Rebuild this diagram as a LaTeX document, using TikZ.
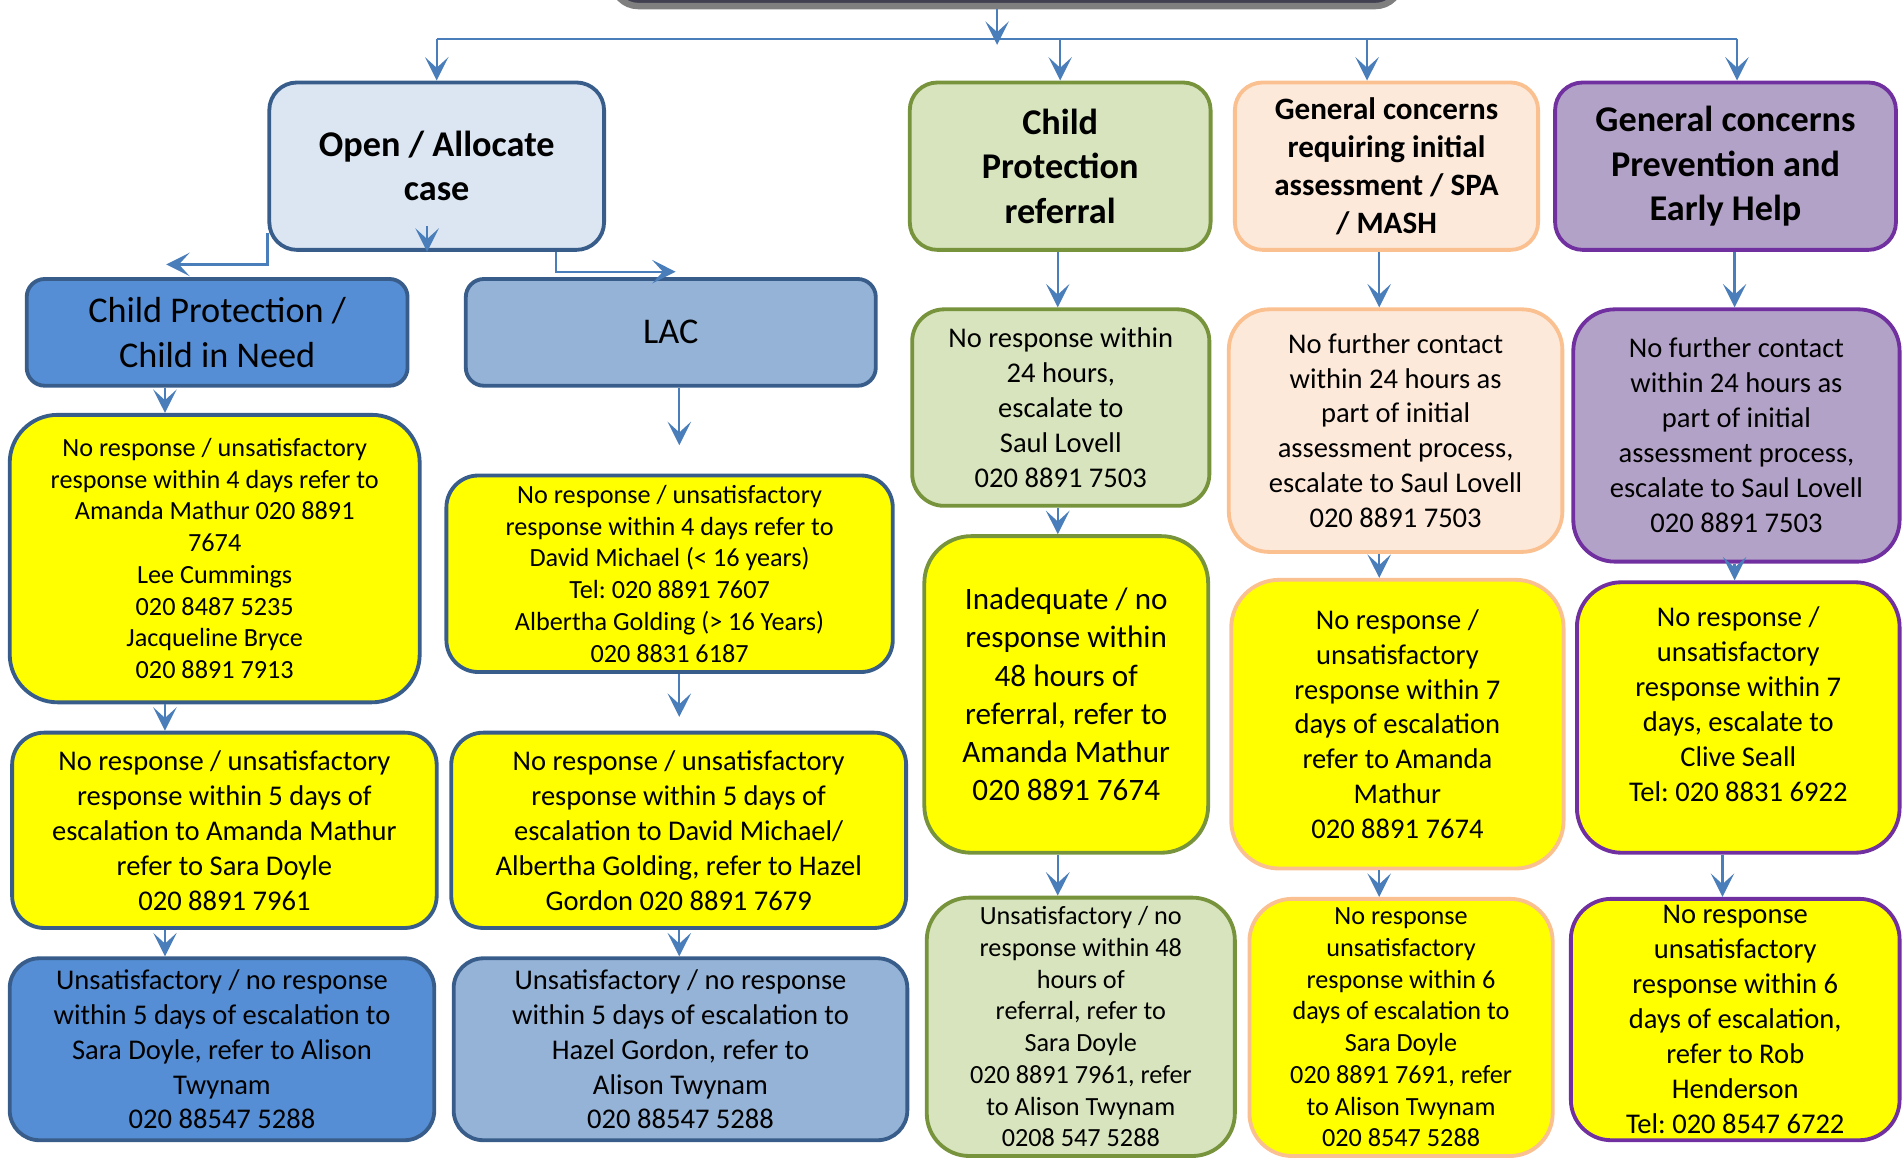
\documentclass[tikz,border=0pt]{standalone}
\usepackage{fontspec}
\setmainfont{Carlito}
\frenchspacing
\usetikzlibrary{arrows.meta, positioning}
\definecolor{epArrow}{HTML}{4A7EBB}
\definecolor{epNavy}{HTML}{385D8A}
\definecolor{epPale}{HTML}{DCE6F2}
\definecolor{epMid}{HTML}{558ED5}
\definecolor{epLac}{HTML}{95B3D7}
\definecolor{epYellow}{HTML}{FFFF00}
\definecolor{epGreen}{HTML}{D7E4BD}
\definecolor{epGreenEdge}{HTML}{77933C}
\definecolor{epPeach}{HTML}{FDE9D9}
\definecolor{epPeachEdge}{HTML}{FAC090}
\definecolor{epLilac}{HTML}{B3A2C7}
\definecolor{epPurple}{HTML}{7030A0}
\definecolor{epDark}{HTML}{404050}
\definecolor{epGrey}{HTML}{7F7F7F}
\tikzset{
  flow/.style       = {-{Stealth[length=11pt, width=11pt, inset=5pt]}, epArrow, line width=1.1pt},
  wire/.style       = {epArrow, line width=1.1pt},
  card/.style n args = {3}{line width=1.8pt, align=center, inner sep=2pt,
                       minimum width=#1*0.02cm, minimum height=#2*0.02cm,
                       rounded corners=#3pt},
  navycard/.style   = {draw=epNavy},
  greencard/.style  = {draw=epGreenEdge},
  peachcard/.style  = {draw=epPeachEdge},
  purplecard/.style = {draw=epPurple},
  txtS/.style       = {font=\fontsize{12.3}{14.9}\selectfont},
  txtM/.style       = {font=\fontsize{13.4}{16.4}\selectfont},
  txtL/.style       = {font=\fontsize{14.6}{17.9}\selectfont},
  headL/.style      = {font=\fontsize{17}{20.8}\selectfont\bfseries},
  headM/.style      = {font=\fontsize{14.6}{17.9}\selectfont\bfseries},
  tagL/.style       = {font=\fontsize{17}{21}\selectfont},
}

\begin{document}
\begin{tikzpicture}[x=0.02cm, y=-0.02cm]
  \useasboundingbox (0,0) rectangle (1568,956);

  % header bar, cut off at the top edge
  \node[draw=epGrey, fill=epDark, line width=3pt, rounded corners=12pt,
        minimum width=650*0.02cm, minimum height=80*0.02cm] (top) at (830,-35) {};

  % first row
  \node[card={276}{138}{13}, navycard, fill=epPale, headL] (op) at (360,137) {Open / Allocate\\case};
  \node[card={248}{138}{13}, greencard, fill=epGreen, headL] (c0) at (874,137) {Child\\Protection\\referral};
  \node[card={250}{138}{13}, peachcard, fill=epPeach, headM] (d0) at (1143,137) {General concerns\\requiring initial\\assessment / SPA\\/ MASH};
  \node[card={281}{138}{13}, purplecard, fill=epLilac, headL] (e0) at (1422.5,137) {General concerns\\Prevention and\\Early Help};

  % open / allocate branch
  \node[card={314}{88}{8.5}, navycard, fill=epMid, tagL] (cpcin) at (179,274) {Child Protection /\\Child in Need};
  \node[card={338}{88}{8.5}, navycard, fill=epLac, tagL] (lac) at (553,274) {LAC};

  \node[card={338}{237}{22.5}, navycard, fill=epYellow, txtS] (a1) at (177,460.5)
    {No response / unsatisfactory\\response within 4 days refer to\\Amanda Mathur 020 8891\\7674\\Lee Cummings\\020 8487 5235\\Jacqueline Bryce\\020 8891 7913};
  \node[card={350}{161}{15}, navycard, fill=epYellow, txtM] (a2) at (185,684.5)
    {No response / unsatisfactory\\response within 5 days of\\escalation to Amanda Mathur\\refer to Sara Doyle\\020 8891 7961};
  \node[card={350}{150}{14}, navycard, fill=epMid, txtM] (a3) at (183,865)
    {Unsatisfactory / no response\\within 5 days of escalation to\\Sara Doyle, refer to Alison\\Twynam\\020 88547 5288};

  \node[card={368}{162}{15}, navycard, fill=epYellow, txtS] (b1) at (552,473)
    {No response / unsatisfactory\\response within 4 days refer to\\David Michael (< 16 years)\\Tel: 020 8891 7607\\Albertha Golding (> 16 Years)\\020 8831 6187};
  \node[card={375}{161}{15}, navycard, fill=epYellow, txtM] (b2) at (559.5,684.5)
    {No response / unsatisfactory\\response within 5 days of\\escalation to David Michael/\\Albertha Golding, refer to Hazel\\Gordon 020 8891 7679};
  \node[card={374}{150}{14}, navycard, fill=epLac, txtM] (b3) at (561,865)
    {Unsatisfactory / no response\\within 5 days of escalation to\\Hazel Gordon, refer to\\Alison Twynam\\020 88547 5288};

  % child protection referral
  \node[card={245}{162}{15}, greencard, fill=epGreen, txtM] (c1) at (874.5,336)
    {No response within\\24 hours,\\escalate to\\Saul Lovell\\020 8891 7503};
  \node[card={234}{261}{22}, greencard, fill=epYellow, txtL] (c2) at (879,572.5)
    {Inadequate / no\\response within\\48 hours of\\referral, refer to\\Amanda Mathur\\020 8891 7674};
  \node[card={254}{213}{20}, greencard, fill=epGreen, txtS] (c3) at (891,846.5)
    {Unsatisfactory / no\\response within 48\\hours of\\referral, refer to\\Sara Doyle\\020 8891 7961, refer\\to Alison Twynam\\0208 547 5288};

  % initial assessment / SPA / MASH
  \node[card={275}{200}{19}, peachcard, fill=epPeach, txtM] (d1) at (1150.5,355)
    {No further contact\\within 24 hours as\\part of initial\\assessment process,\\escalate to Saul Lovell\\020 8891 7503};
  \node[card={274}{238}{22.5}, peachcard, fill=epYellow, txtM] (d2) at (1152,597)
    {No response /\\unsatisfactory\\response within 7\\days of escalation\\refer to Amanda\\Mathur\\020 8891 7674};
  \node[card={250}{212}{20}, peachcard, fill=epYellow, txtS] (d3) at (1155,847)
    {No response\\unsatisfactory\\response within 6\\days of escalation to\\Sara Doyle\\020 8891 7691, refer\\to Alison Twynam\\020 8547 5288};

  % prevention and early help
  \node[card={269}{208}{19.5}, purplecard, fill=epLilac, txtM] (e1) at (1431.5,359)
    {No further contact\\within 24 hours as\\part of initial\\assessment process,\\escalate to Saul Lovell\\020 8891 7503};
  \node[card={266}{223}{21}, purplecard, fill=epYellow, txtM] (e2) at (1433,591.5)
    {No response /\\unsatisfactory\\response within 7\\days, escalate to\\Clive Seall\\Tel: 020 8831 6922\\[-4pt]\mbox{}};
  \node[card={271}{199}{19}, purplecard, fill=epYellow, txtM] (e3) at (1430.5,840.5)
    {No response\\unsatisfactory\\response within 6\\days of escalation,\\refer to Rob\\Henderson\\Tel: 020 8547 6722};

  % connector columns and free ends
  \coordinate (bus)    at (0,32);
  \coordinate (hub)    at (822,37);
  \coordinate (colA)   at (136,0);
  \coordinate (colB)   at (560,0);
  \coordinate (colC)   at (872,0);
  \coordinate (colD0)  at (1127,0);
  \coordinate (colD)   at (1137,0);
  \coordinate (colE0)  at (1432,0);
  \coordinate (colE)   at (1430,0);
  \coordinate (colE2)  at (1420,0);
  \coordinate (cpin)   at (137,218);
  \coordinate (lacin)  at (557,224);
  \coordinate (lacend) at (560,367);
  \coordinate (b1end)  at (560,591);

  % top distribution
  \draw[flow] (top.south -| hub) -- (hub);
  \draw[wire] (op.north |- bus) -- (colE0 |- bus);
  \draw[flow] (op.north |- bus) -- (op.north);
  \draw[flow] (c0.north |- bus) -- (c0.north);
  \draw[flow] (colD0 |- bus) -- (d0.north -| colD0);
  \draw[flow] (colE0 |- bus) -- (e0.north -| colE0);

  % open / allocate elbows
  \draw[flow] ([yshift=9pt]op.south west) |- (cpin);
  \draw[flow] ([xshift=56pt]op.south) |- (lacin);
  \draw[flow] ([xshift=-4.5pt, yshift=12pt]op.south) -- ([xshift=-4.5pt]op.south);

  % escalation chains
  \draw[flow] (cpcin.south -| colA) -- (a1.north -| colA);
  \draw[flow] (a1.south -| colA) -- (a2.north -| colA);
  \draw[flow] (a2.south -| colA) -- (a3.north -| colA);

  \draw[flow] (lac.south -| colB) -- (lacend);
  \draw[flow] (b1.south -| colB) -- (b1end);
  \draw[flow] (b2.south -| colB) -- (b3.north -| colB);

  \draw[flow] (c0.south -| colC) -- (c1.north -| colC);
  \draw[flow] (c1.south -| colC) -- (c2.north -| colC);
  \draw[flow] (c2.south -| colC) -- (c3.north -| colC);

  \draw[flow] (d0.south -| colD) -- (d1.north -| colD);
  \draw[flow] (d1.south -| colD) -- (d2.north -| colD);
  \draw[flow] (d2.south -| colD) -- (d3.north -| colD);

  \draw[flow] (e0.south -| colE) -- (e1.north -| colE);
  \draw[flow] (e1.south -| colE) -- (e2.north -| colE);
  \draw[flow] (e2.south -| colE2) -- (e3.north -| colE2);
\end{tikzpicture}
\end{document}
